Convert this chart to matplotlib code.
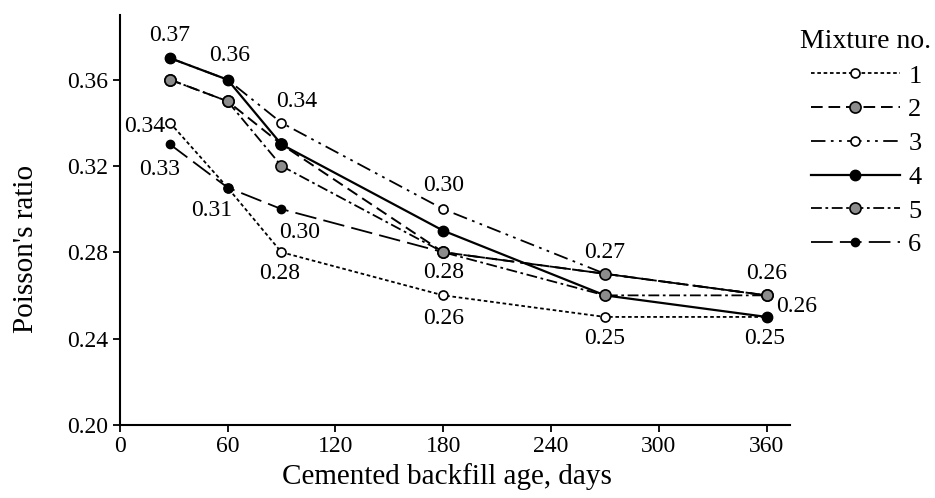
#Poisson's ratio of cemented backfill vs age for six mixtures
import matplotlib
matplotlib.use("Agg")
import matplotlib.pyplot as plt

plt.rcParams["font.family"] = ["Liberation Serif", "DejaVu Serif"]

age = [28, 60, 90, 180, 270, 360]
mix1 = [0.34, 0.31, 0.28, 0.26, 0.25, 0.25]
mix2 = [0.36, 0.35, 0.33, 0.28, 0.27, 0.26]
mix3 = [0.37, 0.36, 0.34, 0.30, 0.27, 0.26]
mix4 = [0.37, 0.36, 0.33, 0.29, 0.26, 0.25]
mix5 = [0.36, 0.35, 0.32, 0.28, 0.26, 0.26]
mix6 = [0.33, 0.31, 0.30, 0.28, 0.27, 0.26]
names = ["1", "2", "3", "4", "5", "6"]

# value labels: (x, y, text, dx, dy) offsets in pixels
labels = [
    (28, 0.37, "0.37", 0, 23), (60, 0.36, "0.36", 2, 24), (90, 0.34, "0.34", 15, 21),
    (28, 0.34, "0.34", -25, -4), (28, 0.33, "0.33", -10, -25), (60, 0.31, "0.31", -16, -23),
    (90, 0.30, "0.30", 18, -23), (90, 0.28, "0.28", -2, -21), (180, 0.30, "0.30", 0, 24),
    (180, 0.28, "0.28", 0, -20), (180, 0.26, "0.26", 0, -23), (270, 0.27, "0.27", 0, 21),
    (270, 0.25, "0.25", 0, -22), (360, 0.26, "0.26", 0, 22), (360, 0.25, "0.25", -2, -22),
    (360, 0.25, "0.26", 30, 10),
]

fig = plt.figure(figsize=(9.35, 4.98), dpi=100)
ax = fig.add_axes([0.128, 0.147, 0.717, 0.823])

gray = "#8c8c8c"
ax.plot(age, mix1, color="k", lw=1.3, ls=(0, (2, 1.5)), marker="o", ms=6.5, mfc="white", mec="k", mew=1.2, label=names[0])
ax.plot(age, mix6, color="k", lw=1.3, ls=(0, (12, 4)), marker="o", ms=6, mfc="k", mec="k", label=names[5])
ax.plot(age, mix3, color="k", lw=1.3, ls=(0, (8, 3, 1.5, 3, 1.5, 3)), marker="o", ms=6.5, mfc="white", mec="k", mew=1.2, label=names[2])
ax.plot(age, mix2, color="k", lw=1.4, ls=(0, (6, 3)), marker="o", ms=8, mfc=gray, mec="k", mew=1.2, label=names[1])
ax.plot(age, mix4, color="k", lw=1.6, ls="-", marker="o", ms=7.5, mfc="k", mec="k", label=names[3])
ax.plot(age, mix5, color="k", lw=1.3, ls=(0, (6, 2, 1.5, 2)), marker="o", ms=8, mfc=gray, mec="k", mew=1.2, label=names[4])

for x, y, t, dx, dy in labels:
    ax.annotate(t, (x, y), xytext=(dx, dy), textcoords="offset pixels",
                ha="center", va="center", fontsize=17)

ax.set_xlim(0, 373)
ax.set_ylim(0.20, 0.39)
ax.set_xticks([0, 60, 120, 180, 240, 300, 360])
ax.set_yticks([0.20, 0.24, 0.28, 0.32, 0.36])
ax.set_yticklabels(["0.20", "0.24", "0.28", "0.32", "0.36"])
ax.tick_params(direction="out", length=5, width=1.3, labelsize=17, pad=3)
ax.spines["top"].set_visible(False)
ax.spines["right"].set_visible(False)
ax.spines["left"].set_linewidth(1.5)
ax.spines["bottom"].set_linewidth(1.5)
ax.set_xlabel("Cemented backfill age, days", fontsize=21)
ax.set_ylabel("Poisson's ratio", fontsize=21)
ax.xaxis.set_label_coords(0.488, -0.093)
ax.yaxis.set_label_coords(-0.12, 0.43)

handles, labs = ax.get_legend_handles_labels()
order = [labs.index(n) for n in names]
fig.legend([handles[i] for i in order], [labs[i] for i in order],
           title="Mixture no.", loc="upper center", bbox_to_anchor=(866 / 935, 1 - 13 / 498),
           bbox_transform=fig.transFigure, frameon=False, fontsize=19, title_fontsize=20,
           handlelength=3.4, labelspacing=0.39, handletextpad=0.3, borderpad=0.1)

fig.savefig("out.png", dpi=100)
